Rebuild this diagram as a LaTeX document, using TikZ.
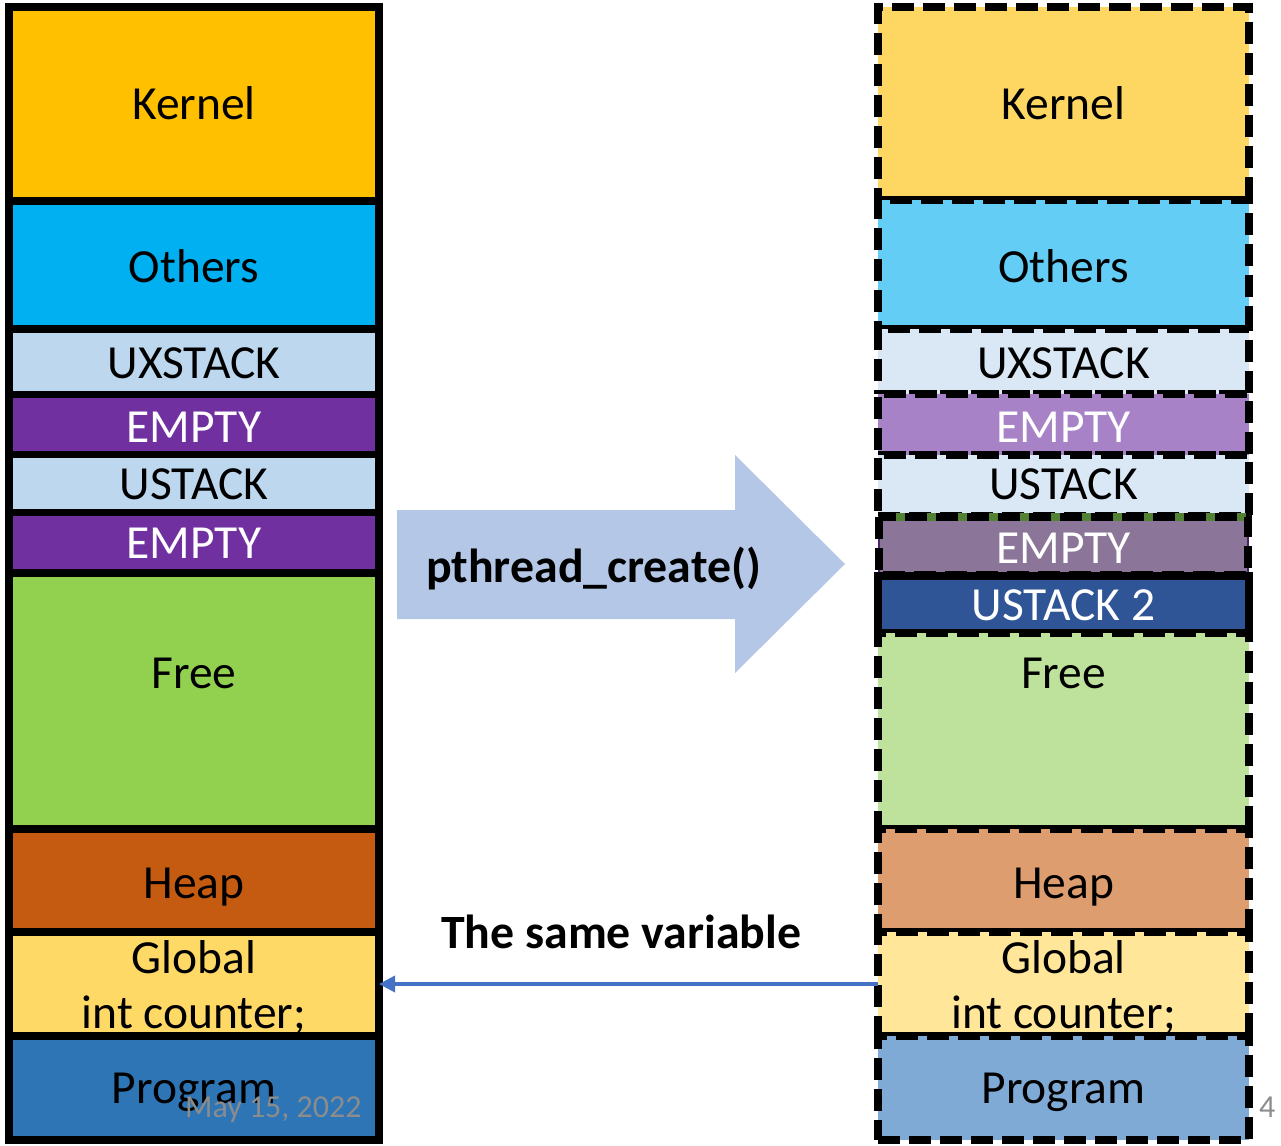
\documentclass[tikz,border=0pt]{standalone}
\usepackage{fontspec}
\setmainfont{Carlito}
\usetikzlibrary{arrows.meta}
\definecolor{kerL}{HTML}{FFC000}
\definecolor{othL}{HTML}{00B0F0}
\definecolor{stkL}{HTML}{BDD7EE}
\definecolor{empL}{HTML}{7030A0}
\definecolor{freL}{HTML}{92D050}
\definecolor{hepL}{HTML}{C55A11}
\definecolor{gloL}{HTML}{FFD966}
\definecolor{prgL}{HTML}{2E75B6}
\definecolor{kerR}{HTML}{FED762}
\definecolor{othR}{HTML}{63CDF5}
\definecolor{stkR}{HTML}{DAE7F4}
\definecolor{empR}{HTML}{A882C6}
\definecolor{empRb}{HTML}{8B7598}
\definecolor{empRline}{HTML}{4A2468}
\definecolor{empRgreen}{HTML}{548235}
\definecolor{us2R}{HTML}{2F5597}
\definecolor{freR}{HTML}{BEE19C}
\definecolor{hepR}{HTML}{DE9D6F}
\definecolor{gloR}{HTML}{FFE699}
\definecolor{prgR}{HTML}{7FAAD5}
\definecolor{bigarrow}{HTML}{B4C7E7}
\definecolor{linkblue}{HTML}{4472C4}
\definecolor{footgray}{HTML}{8C8C8C}
\tikzset{
  lbox/.style={draw=black, line width=7.5pt, inner sep=0pt, outer sep=0pt, minimum width=370pt},
  rbox/.style={draw=black, line width=7.5pt, dash pattern=on 22pt off 9pt, inner sep=0pt, outer sep=0pt, minimum width=371pt},
  lbl/.style={font=\fontsize{47.5}{47.5}\selectfont, anchor=base, inner sep=0pt},
  boldlbl/.style={font=\fontsize{47.8}{47.8}\selectfont\bfseries, anchor=base west, inner sep=0pt},
  foot/.style={font=\fontsize{32}{32}\selectfont, text=footgray, anchor=base west, inner sep=0pt}
}
\begin{document}
\begin{tikzpicture}[x=1pt,y=-1pt]
\useasboundingbox (0,0) rectangle (1281,1145);
% ---------- left column ----------
\node[lbox, fill=kerL, minimum height=194pt] (kL) at (194,104) {};
\node[lbox, fill=othL, minimum height=128pt] (oL) at (194,265) {};
\node[lbox, fill=stkL, minimum height=65.5pt] (uxL) at (194,361.75) {};
\node[lbox, fill=empL, minimum height=60pt] (e1L) at (194,424.5) {};
\node[lbox, fill=stkL, minimum height=58pt] (usL) at (194,483.5) {};
\node[lbox, fill=empL, minimum height=60.5pt] (e2L) at (194,542.75) {};
\node[lbox, fill=freL, minimum height=256pt] (fL) at (194,701) {};
\node[lbox, fill=hepL, minimum height=103pt] (hL) at (194,880.5) {};
\node[lbox, fill=gloL, minimum height=104pt] (gL) at (194,984) {};
\node[lbox, fill=prgL, minimum height=104pt] (pL) at (194,1088) {};
\node[lbl] (tkL) at (194,120) {Kernel};
\node[lbl] (toL) at (194,282) {Others};
\node[lbl] (tuxL) at (194,378) {UXSTACK};
\node[lbl, text=white] (te1L) at (194,442) {EMPTY};
\node[lbl] (tusL) at (194,499) {USTACK};
\node[lbl, text=white] (te2L) at (194,558) {EMPTY};
\node[lbl] (tfL) at (194,688) {Free};
\node[lbl] (thL) at (194,898) {Heap};
\node[lbl] (tgL) at (194,973) {Global};
\node[lbl] (tg2L) at (194,1028) {int counter;};
\node[lbl] (tpL) at (194,1103) {Program};
% ---------- right column ----------
\node[rbox, fill=kerR, minimum height=193pt] (kR) at (1063.5,103.5) {};
\node[rbox, fill=othR, minimum height=129pt] (oR) at (1063.5,264.5) {};
\node[rbox, fill=stkR, minimum height=65pt] (uxR) at (1063.5,361.5) {};
\node[rbox, fill=empR, minimum height=61pt] (e1R) at (1063.5,424.5) {};
\node[rbox, fill=stkR, minimum height=61pt] (usR) at (1063.5,485.5) {};
\node[draw=empRline, line width=1.5pt, fill=empRb, inner sep=0pt, outer sep=0pt, minimum width=369pt, minimum height=58pt] (e2R) at (1063.5,546) {};
\draw[empRgreen, line width=7.5pt] (e2R.north west) -- (e2R.north east);
\draw[black, line width=7.5pt, dash pattern=on 22pt off 9pt] (e2R.north west) rectangle (e2R.south east);
\node[lbox, fill=us2R, minimum width=371pt, minimum height=57pt] (u2R) at (1063.5,604.5) {};
\node[rbox, fill=freR, minimum height=196pt] (fR) at (1063.5,731) {};
\node[rbox, fill=hepR, minimum height=103pt] (hR) at (1063.5,880.5) {};
\node[rbox, fill=gloR, minimum height=104pt] (gR) at (1063.5,984) {};
\node[rbox, fill=prgR, minimum height=104pt] (pR) at (1063.5,1088) {};
\node[lbl] (tkR) at (1063.5,120) {Kernel};
\node[lbl] (toR) at (1063.5,282) {Others};
\node[lbl] (tuxR) at (1063.5,378) {UXSTACK};
\node[lbl, text=white] (te1R) at (1063.5,442) {EMPTY};
\node[lbl] (tusR) at (1063.5,499) {USTACK};
\node[lbl, text=white] (te2R) at (1063.5,563) {EMPTY};
\node[lbl, text=white] (tu2R) at (1063.5,620) {USTACK 2};
\node[lbl] (tfR) at (1063.5,688) {Free};
\node[lbl] (thR) at (1063.5,898) {Heap};
\node[lbl] (tgR) at (1063.5,973) {Global};
\node[lbl] (tg2R) at (1063.5,1028) {int counter;};
\node[lbl] (tpR) at (1063.5,1103) {Program};
% ---------- big arrow ----------
\fill[bigarrow] (397,510) -- (735,510) -- (735,455) -- (845,564) -- (735,673) -- (735,619) -- (397,619) -- cycle;
\node[boldlbl] (pth) at (426,582) {pthread\_create()};
% ---------- same variable link ----------
\node[boldlbl] (same) at (441,948) {The same variable};
\draw[linkblue, line width=3.5pt, -{Triangle[length=16pt,width=16pt]}] (gR.west) -- (gL.east);
% ---------- footer ----------
\node[foot] (date) at (185,1117) {May 15, 2022};
\node[foot] (pg) at (1259,1117) {4};
\end{tikzpicture}
\end{document}
